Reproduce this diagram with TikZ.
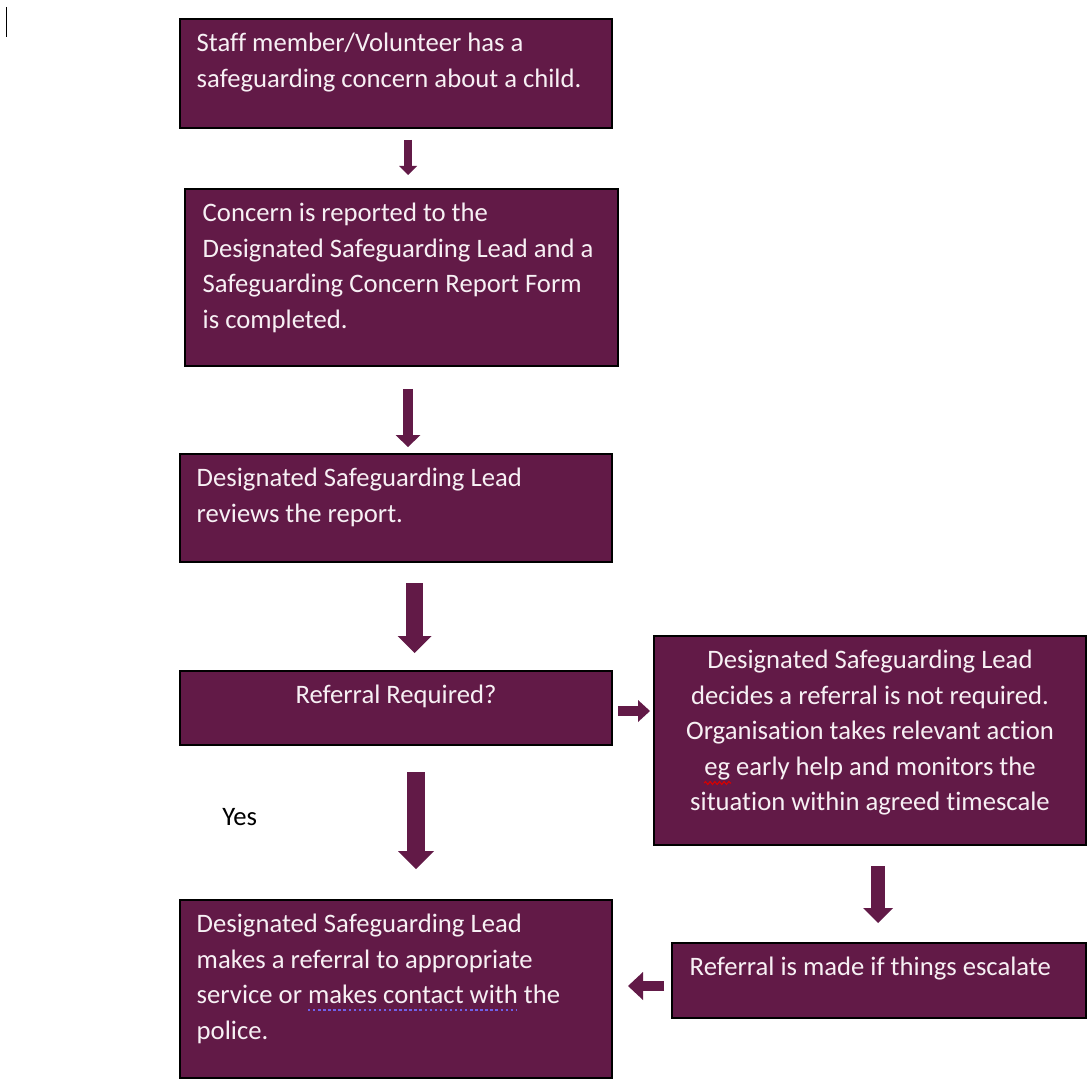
\documentclass[tikz,border=0pt]{standalone}
\usepackage{fontspec}
\setmainfont{Carlito}[Ligatures=NoCommon]
\usetikzlibrary{arrows.meta,calc,decorations.pathmorphing}
\definecolor{pur}{HTML}{621A47}
\definecolor{txtc}{HTML}{F7F0F4}
\definecolor{dotblue}{HTML}{7060E8}
\tikzset{
  box/.style={draw=black, line width=0.8pt, fill=pur, inner sep=0pt},
  boxtxt/.style={text=txtc, inner sep=0pt, font=\fontsize{20pt}{26.6pt}\selectfont},
  blk/.style n args={3}{draw=pur, line width=#1, -{Triangle[width=#2, length=#3, line width=0pt]}}
}
\newcommand{\fl}{\rule{0pt}{24.75pt}}
\begin{document}
\begin{tikzpicture}[x=0.75pt, y=-0.75pt]
\useasboundingbox[fill=white] (0,0) rectangle (1092,1080);

% cursor mark
\draw[line width=1.1pt] (6.5,7) -- (6.5,37);

% boxes
\node[box, minimum width=324pt, minimum height=81.75pt] (b1) at (396,73.5) {};
\node[box, minimum width=324.75pt, minimum height=132.75pt] (b2) at (401.5,277.5) {};
\node[box, minimum width=324pt, minimum height=81pt] (b3) at (396,508) {};
\node[box, minimum width=324pt, minimum height=55.5pt] (b4) at (396,708) {};
\node[box, minimum width=324pt, minimum height=156.75pt] (b5) at (870,740.5) {};
\node[box, minimum width=310.5pt, minimum height=56.25pt] (b6) at (879,980.5) {};
\node[box, minimum width=324pt, minimum height=133.5pt] (b7) at (396,989) {};

% texts
\node[boxtxt, anchor=north west, align=left] (t1) at ($(b1.north west)+(17,0)$)
  {\fl Staff member/Volunteer has a\\safeguarding concern about a child.};
\node[boxtxt, anchor=north west, align=left] (t2) at ($(b2.north west)+(18,0)$)
  {\fl Concern is reported to the\\Designated Safeguarding Lead and a\\Safeguarding Concern Report Form\\is completed.};
\node[boxtxt, anchor=north west, align=left] (t3) at ($(b3.north west)+(17,0)$)
  {\fl Designated Safeguarding Lead\\reviews the report.};
\node[boxtxt, anchor=north, align=center] (t4) at (b4.north)
  {\fl Referral Required?};
\node[boxtxt, anchor=north, align=center] (t5) at (b5.north)
  {\fl Designated Safeguarding Lead\\decides a referral is not required.\\Organisation takes relevant action\\eg early help and monitors the\\situation within agreed timescale};
\node[boxtxt, anchor=north west, align=left] (t6) at ($(b6.north west)+(18,0)$)
  {\fl Referral is made if things escalate};
\node[boxtxt, anchor=north west, align=left] (t7) at ($(b7.north west)+(17,0)$)
  {\fl Designated Safeguarding Lead\\makes a referral to appropriate\\service or makes contact with the\\police.};

\node[inner sep=0pt, anchor=base west, font=\fontsize{20pt}{26.6pt}\selectfont] (yes) at (222,825) {Yes};

% proofing marks
\draw[red!85!black, line width=0.8pt, decorate, decoration={snake, amplitude=1.1pt, segment length=3.5pt}] (704,783) -- (731,783);
\draw[dotblue, line width=1.8pt, dash pattern=on 1.8pt off 2pt] (308,1010) -- (517,1010);

% arrow end points
\coordinate (a1s) at (408,140);   \coordinate (a1e) at (408,175);
\coordinate (a2s) at (408,389);   \coordinate (a2e) at (408,447);
\coordinate (a3s) at (414.5,583); \coordinate (a3e) at (414.5,653);
\coordinate (a4s) at (618,711);   \coordinate (a4e) at (650,711);
\coordinate (a5s) at (416,772);   \coordinate (a5e) at (416,869);
\coordinate (a6s) at (878,866);   \coordinate (a6e) at (878,923);
\coordinate (a7s) at (664,986);   \coordinate (a7e) at (628,986);

\draw[blk={6pt}{13.5pt}{6.75pt}] (a1s) -- (a1e);
\draw[blk={7.5pt}{18.75pt}{9pt}] (a2s) -- (a2e);
\draw[blk={12.75pt}{25.5pt}{12.75pt}] (a3s) -- (a3e);
\draw[blk={7.5pt}{16.5pt}{9pt}] (a4s) -- (a4e);
\draw[blk={13.5pt}{27pt}{13.5pt}] (a5s) -- (a5e);
\draw[blk={10.5pt}{22.5pt}{11.25pt}] (a6s) -- (a6e);
\draw[blk={7.5pt}{21pt}{11.25pt}] (a7s) -- (a7e);
\end{tikzpicture}
\end{document}
